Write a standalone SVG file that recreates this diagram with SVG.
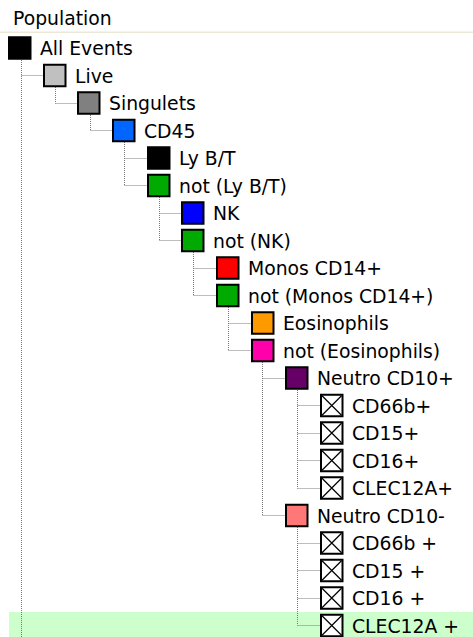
<svg xmlns="http://www.w3.org/2000/svg" width="473" height="637" viewBox="0 0 473 637">
<style>
text{font-family:"DejaVu Sans","Liberation Sans",sans-serif;font-size:18.8px;fill:#000}
.b{stroke:#000;stroke-width:2}
.x{fill:#fff}
.d{stroke:#000;stroke-width:1.2;fill:none}
.c line{stroke:#7a7a7a;stroke-width:1;stroke-dasharray:1 1}
</style>
<rect width="473" height="637" fill="#fff"/>
<text x="13" y="25">Population</text>
<rect x="0" y="31.5" width="473" height="1.5" fill="#ece9d8"/>
<rect x="9" y="612" width="464" height="25" fill="#ccffcc"/>
<g id="connectors" class="c">
<line x1="21.5" y1="60" x2="21.5" y2="637"/>
<line x1="21.5" y1="75.5" x2="43" y2="75.5"/>
<line x1="55.5" y1="87" x2="55.5" y2="103.5"/>
<line x1="55.5" y1="103.5" x2="77" y2="103.5"/>
<line x1="90.5" y1="115" x2="90.5" y2="130.5"/>
<line x1="90.5" y1="130.5" x2="112" y2="130.5"/>
<line x1="124.5" y1="142" x2="124.5" y2="185.5"/>
<line x1="124.5" y1="158.5" x2="147" y2="158.5"/>
<line x1="124.5" y1="185.5" x2="147" y2="185.5"/>
<line x1="159.5" y1="197" x2="159.5" y2="240.5"/>
<line x1="159.5" y1="213.5" x2="181" y2="213.5"/>
<line x1="159.5" y1="240.5" x2="181" y2="240.5"/>
<line x1="193.5" y1="252" x2="193.5" y2="295.5"/>
<line x1="193.5" y1="268.5" x2="216" y2="268.5"/>
<line x1="193.5" y1="295.5" x2="216" y2="295.5"/>
<line x1="228.5" y1="307" x2="228.5" y2="350.5"/>
<line x1="228.5" y1="323.5" x2="251" y2="323.5"/>
<line x1="228.5" y1="350.5" x2="251" y2="350.5"/>
<line x1="262.5" y1="362" x2="262.5" y2="515.5"/>
<line x1="262.5" y1="378.5" x2="285" y2="378.5"/>
<line x1="262.5" y1="515.5" x2="285" y2="515.5"/>
<line x1="297.5" y1="390" x2="297.5" y2="488.5"/>
<line x1="297.5" y1="405.5" x2="320" y2="405.5"/>
<line x1="297.5" y1="433.5" x2="320" y2="433.5"/>
<line x1="297.5" y1="460.5" x2="320" y2="460.5"/>
<line x1="297.5" y1="488.5" x2="320" y2="488.5"/>
<line x1="297.5" y1="527" x2="297.5" y2="625.5"/>
<line x1="297.5" y1="543.5" x2="320" y2="543.5"/>
<line x1="297.5" y1="570.5" x2="320" y2="570.5"/>
<line x1="297.5" y1="598.5" x2="320" y2="598.5"/>
<line x1="297.5" y1="625.5" x2="320" y2="625.5"/>
</g>
<g id="n-all-events"><rect class="b" x="9" y="37.25" width="21.5" height="21.5" fill="#000"/><text x="40" y="55">All Events</text></g>
<g id="n-live"><rect class="b" x="44" y="64.75" width="21.5" height="21.5" fill="#c0c0c0"/><text x="75" y="82.5">Live</text></g>
<g id="n-singulets"><rect class="b" x="78" y="92.25" width="21.5" height="21.5" fill="#808080"/><text x="109" y="110">Singulets</text></g>
<g id="n-cd45"><rect class="b" x="113" y="119.75" width="21.5" height="21.5" fill="#0066ff"/><text x="144" y="137.5">CD45</text></g>
<g id="n-lybt"><rect class="b" x="148" y="147.25" width="21.5" height="21.5" fill="#000"/><text x="179" y="165">Ly B/T</text></g>
<g id="n-not-lybt"><rect class="b" x="148" y="174.75" width="21.5" height="21.5" fill="#00aa00"/><text x="179" y="192.5">not (Ly B/T)</text></g>
<g id="n-nk"><rect class="b" x="182" y="202.25" width="21.5" height="21.5" fill="#0000ff"/><text x="213" y="220">NK</text></g>
<g id="n-not-nk"><rect class="b" x="182" y="229.75" width="21.5" height="21.5" fill="#00aa00"/><text x="213" y="247.5">not (NK)</text></g>
<g id="n-monos"><rect class="b" x="217" y="257.25" width="21.5" height="21.5" fill="#ff0000"/><text x="248" y="275">Monos CD14+</text></g>
<g id="n-not-monos"><rect class="b" x="217" y="284.75" width="21.5" height="21.5" fill="#00aa00"/><text x="248" y="302.5">not (Monos CD14+)</text></g>
<g id="n-eos"><rect class="b" x="252" y="312.25" width="21.5" height="21.5" fill="#ff9900"/><text x="283" y="330">Eosinophils</text></g>
<g id="n-not-eos"><rect class="b" x="252" y="339.75" width="21.5" height="21.5" fill="#ff00aa"/><text x="283" y="357.5">not (Eosinophils)</text></g>
<g id="n-neutro-pos"><rect class="b" x="286" y="367.25" width="21.5" height="21.5" fill="#660066"/><text x="317" y="385">Neutro CD10+</text></g>
<g id="n-cd66b-a"><rect class="b x" x="321" y="394.75" width="21.5" height="21.5"/><path class="d" d="M322 395.75L341.5 415.25M341.5 395.75L322 415.25"/><text x="352" y="412.5">CD66b+</text></g>
<g id="n-cd15-a"><rect class="b x" x="321" y="422.25" width="21.5" height="21.5"/><path class="d" d="M322 423.25L341.5 442.75M341.5 423.25L322 442.75"/><text x="352" y="440">CD15+</text></g>
<g id="n-cd16-a"><rect class="b x" x="321" y="449.75" width="21.5" height="21.5"/><path class="d" d="M322 450.75L341.5 470.25M341.5 450.75L322 470.25"/><text x="352" y="467.5">CD16+</text></g>
<g id="n-clec-a"><rect class="b x" x="321" y="477.25" width="21.5" height="21.5"/><path class="d" d="M322 478.25L341.5 497.75M341.5 478.25L322 497.75"/><text x="352" y="495">CLEC12A+</text></g>
<g id="n-neutro-neg"><rect class="b" x="286" y="504.75" width="21.5" height="21.5" fill="#ff7777"/><text x="317" y="522.5">Neutro CD10-</text></g>
<g id="n-cd66b-b"><rect class="b x" x="321" y="532.25" width="21.5" height="21.5"/><path class="d" d="M322 533.25L341.5 552.75M341.5 533.25L322 552.75"/><text x="352" y="550">CD66b +</text></g>
<g id="n-cd15-b"><rect class="b x" x="321" y="559.75" width="21.5" height="21.5"/><path class="d" d="M322 560.75L341.5 580.25M341.5 560.75L322 580.25"/><text x="352" y="577.5">CD15 +</text></g>
<g id="n-cd16-b"><rect class="b x" x="321" y="587.25" width="21.5" height="21.5"/><path class="d" d="M322 588.25L341.5 607.75M341.5 588.25L322 607.75"/><text x="352" y="605">CD16 +</text></g>
<g id="n-clec-b"><rect class="b x" x="321" y="614.75" width="21.5" height="21.5"/><path class="d" d="M322 615.75L341.5 635.25M341.5 615.75L322 635.25"/><text x="352" y="632.5">CLEC12A +</text></g>
</svg>
